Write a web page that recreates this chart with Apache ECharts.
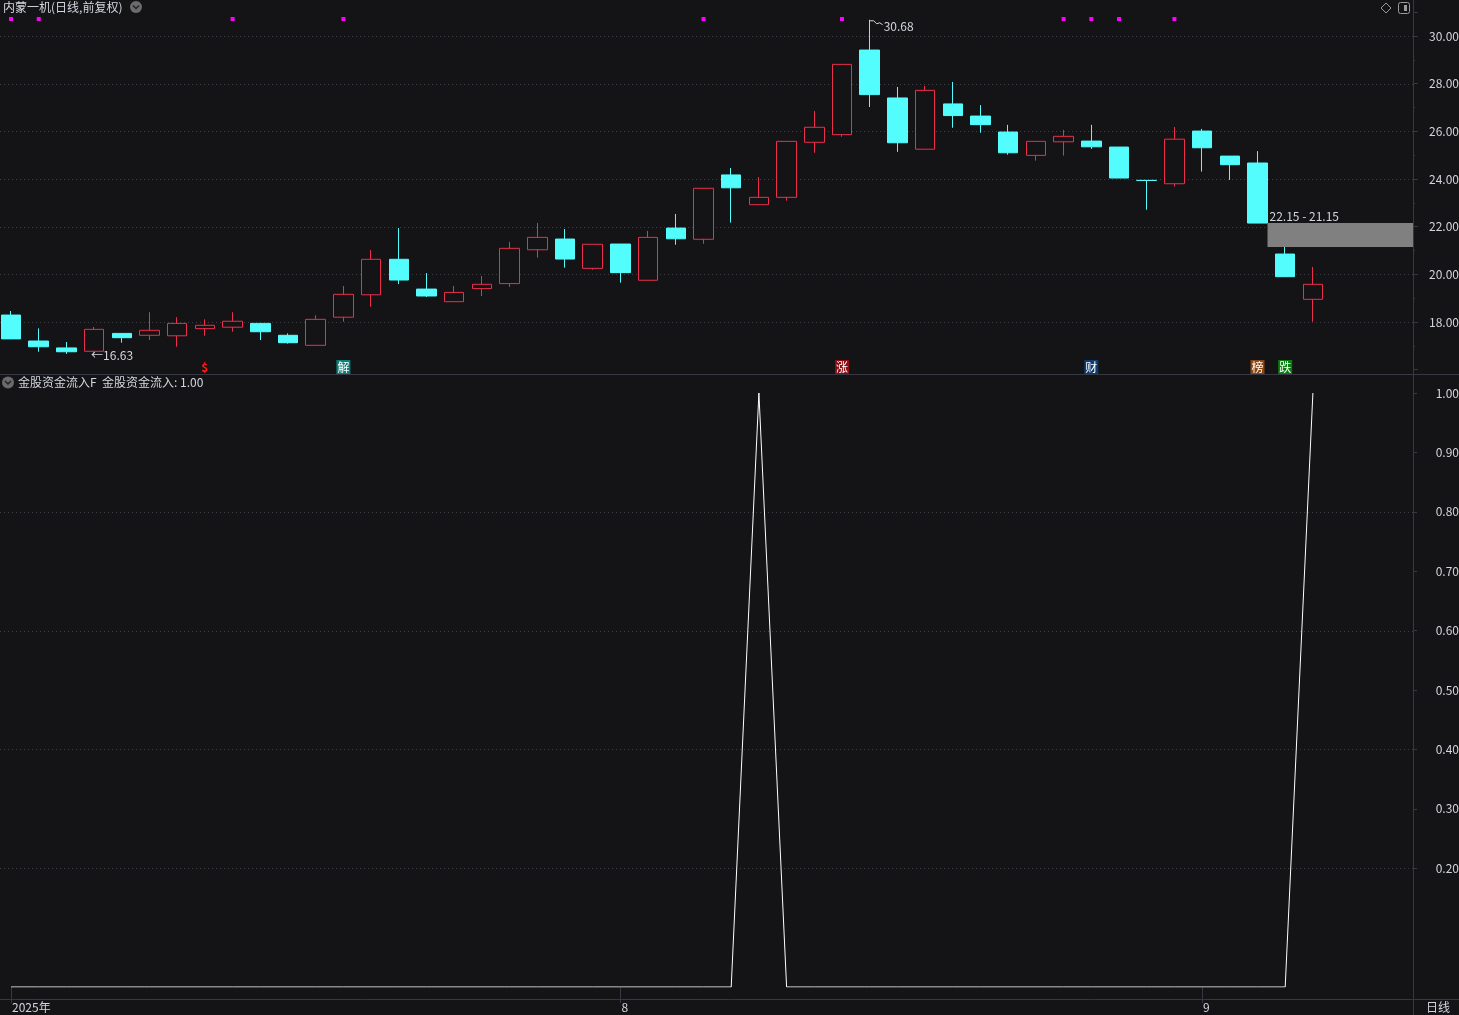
<!DOCTYPE html>
<html><head><meta charset="utf-8">
<script src="https://cdn.jsdelivr.net/npm/echarts@6/dist/echarts.min.js"></script>
<style>html,body{margin:0;padding:0;background:#141315;overflow:hidden}#c{width:1459px;height:1015px;}</style>
</head><body><div id="c"></div>
<script>
// ---------------- DATA ----------------
const dates = [
  '2025-07-02','2025-07-03','2025-07-04','2025-07-07','2025-07-08','2025-07-09','2025-07-10','2025-07-11',
  '2025-07-14','2025-07-15','2025-07-16','2025-07-17','2025-07-18','2025-07-21','2025-07-22','2025-07-23',
  '2025-07-24','2025-07-25','2025-07-28','2025-07-29','2025-07-30','2025-07-31',
  '2025-08-01','2025-08-04','2025-08-05','2025-08-06','2025-08-07','2025-08-08','2025-08-11','2025-08-12',
  '2025-08-13','2025-08-14','2025-08-15','2025-08-18','2025-08-19','2025-08-20','2025-08-21','2025-08-22',
  '2025-08-25','2025-08-26','2025-08-27','2025-08-28','2025-08-29',
  '2025-09-01','2025-09-02','2025-09-03','2025-09-04','2025-09-05'
];
const emptySlots = [' ', '  ', '   '];
const opens  = [18.29,17.20,16.91,16.77,17.52,17.44,17.42,17.72,17.78,17.94,17.44,17.02,18.20,19.14,20.63,19.38,
                18.85,19.40,19.61,21.03,21.48,20.25,21.27,19.75,21.94,21.47,24.17,22.92,23.23,25.54,25.86,29.41,
                27.40,25.25,27.15,26.64,25.97,24.99,25.56,25.59,25.34,23.94,23.80,26.01,24.96,24.67,20.85,18.95];
const closes = [17.29,16.96,16.75,17.69,17.34,17.65,17.94,17.86,18.03,17.59,17.13,18.11,19.16,20.63,19.76,19.09,
                19.24,19.58,21.09,21.55,20.64,21.26,20.07,21.55,21.49,23.61,23.63,23.23,25.58,26.17,28.81,27.54,
                25.52,27.72,26.66,26.28,25.10,25.58,25.79,25.35,24.04,23.94,25.67,25.31,24.60,22.15,19.90,19.58];
const lows   = [17.29,16.75,16.66,16.63,17.13,17.24,16.96,17.42,17.59,17.24,17.09,17.02,18.01,18.64,19.59,19.05,
                18.85,19.09,19.47,20.70,20.28,20.19,19.65,19.75,21.24,21.28,22.17,22.92,23.09,25.10,25.77,27.02,
                25.14,25.25,26.15,25.94,25.02,24.77,24.98,25.26,24.04,22.71,23.68,24.31,23.96,22.15,19.90,18.01];
const highs  = [18.46,17.73,17.16,17.79,17.53,18.41,18.20,18.11,18.41,17.96,17.52,18.28,19.51,21.02,21.94,20.05,
                19.51,19.93,21.36,22.15,21.90,21.26,21.27,21.82,22.53,23.61,24.46,24.08,25.58,26.85,28.81,30.68,
                27.86,27.90,28.07,27.10,26.27,25.58,26.06,26.27,25.34,23.94,26.18,26.10,24.96,25.17,21.15,20.31];
const flowValues = [0,0,0,0,0,0,0,0,0,0,0,0,0,0,0,0,0,0,0,0,0,0,0,0,0,0,0,1,
                    0,0,0,0,0,0,0,0,0,0,0,0,0,0,0,0,0,0,0,1];
const priceGridValues = [18,20,22,24,26,28,30];
const flowGridValues = [0.2,0.4,0.6,0.8];
const flowTickValues = [0.2,0.3,0.4,0.5,0.6,0.7,0.8,0.9,1.0];
const xTickIdx  = [0,22,43];
const xTickText = ['2025年','8','9'];
const dotIdx = [0,1,8,12,25,30,38,39,40,42];
const eventIdx  = [7,12,30,39,45,46];
const eventText = ['$','解','涨','财','榜','跌'];
const gapAfterIdx = 45, gapHigh = 22.15, gapLow = 21.15;
const highIdx = 31, highVal = 30.68;
const lowIdx = 3, lowVal = 16.63;
const flowLast = 1.00;

// ---------------- STYLE / LAYOUT ----------------
const BG = '#141315', UP = '#ec2f4c', DOWN = '#54fdfd', AXIS = '#363843', TXT = '#d2d6de', GRIDLINE = '#3d3d43';
const FONT = "'Noto Sans CJK SC','Noto Sans',sans-serif";
const SLOT = 27.7, NSLOT = dates.length + emptySlots.length, GRID_LEFT = -2.85, GRID_W = SLOT * NSLOT;
const AXIS_X = 1413, AXIS_OFF = AXIS_X - (GRID_LEFT + GRID_W);
const PMIN = 16, PMAX = 31, P_TOP = 12.17, P_H = 357.45;
const SEP_Y = 374, F_TOP = 393, F_H = 594, XAX_OFF = 12, BOT_Y = F_TOP + F_H + XAX_OFF;
const BODY_W = 20;
const eventBg = {'$': null, '解': '#0b7f78', '涨': '#8c0c12', '财': '#0b3c72', '榜': '#8a4512', '跌': '#0b7d10'};

const cats = dates.concat(emptySlots);
const candleData = opens.map((o, i) => [o, closes[i], lows[i], highs[i]]);

const chart = echarts.init(document.getElementById('c'), null, {renderer: 'canvas'});

function gridLineSeries(xi, yi, values) {
  return {type: 'custom', xAxisIndex: xi, yAxisIndex: yi, silent: true, z: 0,
    data: values.map(v => [0, v]),
    renderItem: (params, api) => {
      const y = Math.round(api.coord([0, api.value(1)])[1]) + 0.5;
      const cs = params.coordSys;
      return {type: 'line', shape: {x1: 0, y1: y, x2: cs.x + cs.width + AXIS_OFF, y2: y},
        style: {stroke: GRIDLINE, lineWidth: 1, lineDash: [1, 3]}};
    }};
}

const option = {
  backgroundColor: BG,
  animation: false,
  textStyle: {fontFamily: FONT},
  grid: [
    {left: GRID_LEFT, top: P_TOP, width: GRID_W, height: P_H, containLabel: false, outerBoundsMode: 'none'},
    {left: GRID_LEFT, top: F_TOP, width: GRID_W, height: F_H, containLabel: false, outerBoundsMode: 'none'}
  ],
  xAxis: [
    {type: 'category', gridIndex: 0, data: cats, boundaryGap: true, show: false},
    {type: 'category', gridIndex: 1, data: cats, boundaryGap: true, offset: XAX_OFF,
     axisLine: {show: false},
     axisTick: {show: true, alignWithLabel: true, length: 16, interval: (i) => xTickIdx.includes(i), lineStyle: {color: AXIS}},
     axisLabel: {show: true, interval: (i) => xTickIdx.includes(i), margin: 2, align: 'left', padding: [0, 0, 0, 1],
       color: TXT, fontSize: 12, fontFamily: FONT,
       formatter: (v, i) => { const k = xTickIdx.indexOf(i); return k >= 0 ? xTickText[k] : ''; }},
     splitLine: {show: false}}
  ],
  yAxis: [
    {type: 'value', gridIndex: 0, position: 'right', min: PMIN, max: PMAX, interval: 2, offset: AXIS_OFF,
     axisLine: {show: false},
     axisTick: {show: true, length: 5, lineStyle: {color: AXIS}},
     minorTick: {show: true, splitNumber: 2, length: 2, lineStyle: {color: AXIS}},
     axisLabel: {color: TXT, fontSize: 12, fontFamily: FONT, margin: 46, align: 'right',
       showMinLabel: false, showMaxLabel: false, formatter: (v) => v.toFixed(2)},
     splitLine: {show: false}},
    {type: 'value', gridIndex: 1, position: 'right', min: 0, max: 1, interval: 0.1, offset: AXIS_OFF,
     axisLine: {show: false},
     axisTick: {show: true, length: 4, lineStyle: {color: AXIS}, customValues: flowTickValues},
     axisLabel: {color: TXT, fontSize: 12, fontFamily: FONT, margin: 46, align: 'right',
       formatter: (v) => v >= 0.15 ? v.toFixed(2) : ''},
     splitLine: {show: false}}
  ],
  series: [
    gridLineSeries(0, 0, priceGridValues),
    gridLineSeries(1, 1, flowGridValues),
    {type: 'candlestick', xAxisIndex: 0, yAxisIndex: 0, data: candleData, barWidth: BODY_W, z: 2,
     itemStyle: {color: BG, color0: DOWN, borderColor: UP, borderColor0: DOWN, borderWidth: 1}},
    // gap between candles
    {type: 'custom', xAxisIndex: 0, yAxisIndex: 0, silent: true, z: 3,
     data: [[gapAfterIdx, gapHigh, gapLow]],
     renderItem: (params, api) => {
       const i = api.value(0), hi = api.value(1), lo = api.value(2);
       const p1 = api.coord([i, hi]), p2 = api.coord([i, lo]);
       const x0 = p1[0] + BODY_W / 2;
       const x1 = params.coordSys.x + params.coordSys.width + AXIS_OFF;
       return {type: 'group', children: [
         {type: 'rect', shape: {x: x0, y: p1[1], width: x1 - x0, height: p2[1] - p1[1]}, style: {fill: '#808080'}},
         {type: 'text', style: {text: hi.toFixed(2) + ' - ' + lo.toFixed(2), x: x0 + 2, y: p1[1] - 7,
           align: 'left', verticalAlign: 'middle', fill: TXT, font: '12px ' + FONT}}
       ]};
     }},
    // magenta dots
    {type: 'custom', xAxisIndex: 0, yAxisIndex: 0, silent: true,
     data: dotIdx.map(i => [i, PMIN]),
     renderItem: (params, api) => {
       const x = api.coord([api.value(0), PMIN])[0];
       return {type: 'rect', shape: {x: x - 2, y: 17, width: 4, height: 4}, style: {fill: '#ff00ff'}};
     }},
    // event labels
    {type: 'custom', xAxisIndex: 0, yAxisIndex: 0, silent: true,
     data: eventIdx.map((i, k) => [i, PMIN, k]),
     renderItem: (params, api) => {
       const x = api.coord([api.value(0), PMIN])[0];
       const t = eventText[api.value(2)];
       const cy = SEP_Y - 7;
       const bg = eventBg[t];
       const ch = [];
       if (bg) ch.push({type: 'rect', shape: {x: x - 7, y: cy - 7, width: 14, height: 14}, style: {fill: bg}});
       ch.push({type: 'text', style: {text: t, x: x, y: cy, align: 'center', verticalAlign: 'middle',
         fill: bg ? '#ffffff' : '#ff1a1a', font: (bg ? '' : 'bold ') + '12px ' + FONT}});
       return {type: 'group', children: ch};
     }},
    // high / low annotations
    {type: 'custom', xAxisIndex: 0, yAxisIndex: 0, silent: true, z: 4,
     data: [[highIdx, highVal, 1], [lowIdx, lowVal, 0]],
     renderItem: (params, api) => {
       const p = api.coord([api.value(0), api.value(1)]);
       const isHigh = api.value(2) === 1;
       const v = api.value(1).toFixed(2);
       if (isHigh) {
         return {type: 'group', children: [
           {type: 'polyline', shape: {points: [[p[0], p[1] + 1], [p[0] + 4, p[1] + 1], [p[0] + 7, p[1] + 4], [p[0] + 10, p[1] + 3], [p[0] + 13, p[1] + 5]]},
            style: {stroke: TXT, lineWidth: 1, fill: null}},
           {type: 'text', style: {text: v, x: p[0] + 14, y: p[1] + 7, align: 'left', verticalAlign: 'middle',
             fill: TXT, font: '12px ' + FONT}}
         ]};
       }
       return {type: 'text', style: {text: '←' + v, x: p[0] - 3, y: p[1] + 1, align: 'left', verticalAlign: 'middle',
         fill: TXT, font: '12px ' + FONT}};
     }},
    {type: 'line', xAxisIndex: 1, yAxisIndex: 1, data: flowValues, symbol: 'none', z: 3,
     lineStyle: {color: '#ffffff', width: 1}}
  ],
  graphic: [
    {type: 'line', shape: {x1: 0, y1: SEP_Y + 0.5, x2: 1459, y2: SEP_Y + 0.5}, style: {stroke: AXIS, lineWidth: 1}},
    {type: 'line', shape: {x1: 0, y1: BOT_Y + 0.5, x2: 1459, y2: BOT_Y + 0.5}, style: {stroke: AXIS, lineWidth: 1}},
    {type: 'line', shape: {x1: AXIS_X + 0.5, y1: 0, x2: AXIS_X + 0.5, y2: 1015}, style: {stroke: AXIS, lineWidth: 1}},
    {type: 'text', style: {text: '内蒙一机(日线,前复权)', x: 3, y: 7, verticalAlign: 'middle', fill: TXT, font: '12px ' + FONT}},
    {type: 'circle', shape: {cx: 136, cy: 7, r: 6}, style: {fill: '#6b6b6e'}},
    {type: 'polyline', shape: {points: [[133, 5.5], [136, 8.5], [139, 5.5]]}, style: {stroke: '#222', lineWidth: 1.5, fill: null}},
    {type: 'circle', shape: {cx: 8, cy: 382.5, r: 6}, style: {fill: '#6b6b6e'}},
    {type: 'polyline', shape: {points: [[5, 381], [8, 384], [11, 381]]}, style: {stroke: '#222', lineWidth: 1.5, fill: null}},
    {type: 'text', style: {text: '金股资金流入F  金股资金流入: ' + flowLast.toFixed(2), x: 18, y: 382.5, verticalAlign: 'middle', fill: TXT, font: '12px ' + FONT}},
    {type: 'text', style: {text: '日线', x: 1426, y: 1007, verticalAlign: 'middle', fill: TXT, font: '12px ' + FONT}},
    {type: 'polygon', shape: {points: [[1386, 3], [1391, 8], [1386, 13], [1381, 8]]}, style: {stroke: '#9a9a9a', fill: null, lineWidth: 1}},
    {type: 'rect', shape: {x: 1398.5, y: 2.5, width: 11, height: 11, r: 2}, style: {stroke: '#9a9a9a', fill: null, lineWidth: 1}},
    {type: 'rect', shape: {x: 1404, y: 5, width: 3, height: 6}, style: {fill: '#9a9a9a'}}
  ]
};
chart.setOption(option);
</script>
</body></html>
